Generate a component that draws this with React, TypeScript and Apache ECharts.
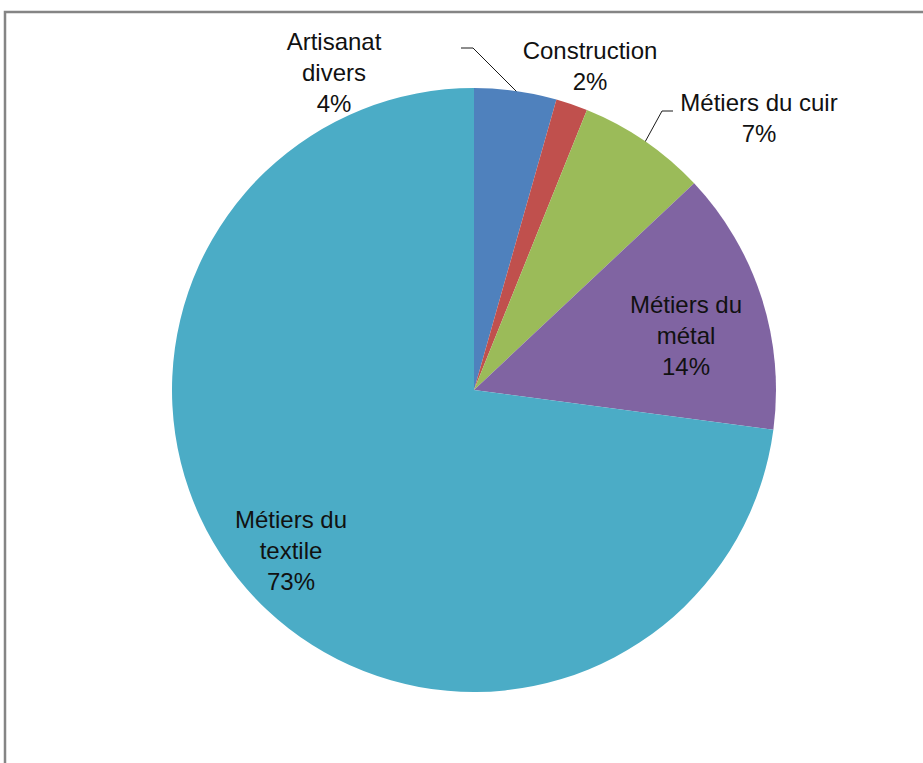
import React, { useEffect, useRef } from "react";
import * as echarts from "echarts";

const categories = ["Artisanat divers", "Construction", "Métiers du cuir", "Métiers du métal", "Métiers du textile"];
const labelNames = ["Artisanat\ndivers", "Construction", "Métiers du cuir", "Métiers du\nmétal", "Métiers du\ntextile"];
const values = [4.4, 1.7, 6.9, 14.1, 72.9];
const colors = ["#4F81BD", "#C0504D", "#9BBB59", "#8064A2", "#4BACC6"];

// label anchor positions (layout) and leader lines
const labelPos: [number, number][] = [[334, 72], [590, 66], [759, 118], [686, 335], [291, 550]];
const leaderLines: ([number, number][] | null)[] = [
  [[517, 92], [473, 48], [461, 48]],
  null,
  [[645, 142], [662, 111], [673, 111]],
  null,
  null,
];

export default function App() {
  const ref = useRef<HTMLDivElement>(null);
  useEffect(() => {
    if (!ref.current) return;
    const chart = echarts.init(ref.current, null, { renderer: "svg" });
    chart.setOption({
      animation: false,
      backgroundColor: "#ffffff",
      graphic: [
        {
          type: "rect",
          shape: { x: 5, y: 12, width: 1000, height: 1000 },
          style: { fill: "none", stroke: "#858585", lineWidth: 2.5 },
          silent: true,
          z: 0,
        },
      ],
      series: [
        {
          type: "pie",
          center: [474, 390],
          radius: 302,
          startAngle: 90,
          clockwise: true,
          avoidLabelOverlap: false,
          itemStyle: { borderWidth: 0 },
          label: {
            show: true,
            position: "outside",
            fontFamily: "Liberation Sans",
            fontSize: 24,
            lineHeight: 31,
            color: "#111111",
            align: "center",
            formatter: (p: any) => `${labelNames[p.dataIndex]}\n${Math.round(p.percent)}%`,
          },
          labelLine: {
            show: true,
            lineStyle: { color: "#1a1a1a", width: 1 },
          },
          labelLayout: (p: any) => {
            const i = p.dataIndex;
            const res: any = {
              x: labelPos[i][0],
              y: labelPos[i][1],
              align: "center",
              verticalAlign: "middle",
            };
            if (leaderLines[i]) res.labelLinePoints = leaderLines[i];
            return res;
          },
          data: categories.map((name, i) => ({
            name,
            value: values[i],
            itemStyle: { color: colors[i] },
            labelLine: { show: leaderLines[i] !== null },
          })),
        },
      ],
    });
    return () => chart.dispose();
  }, []);
  return (
    <div
      ref={ref}
      style={{ position: "fixed", left: 0, top: 0, width: 923, height: 763 }}
    />
  );
}
